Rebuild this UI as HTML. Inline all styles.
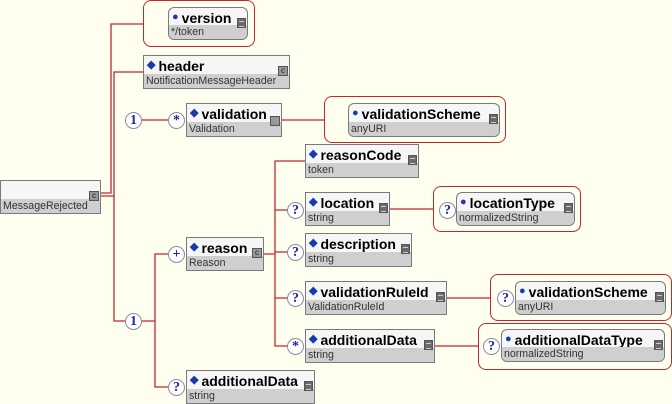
<!DOCTYPE html>
<html><head><meta charset="utf-8"><style>
body{margin:0;width:672px;height:404px;background:#fffff0;position:relative;overflow:hidden;font-family:"Liberation Sans",sans-serif}
.n{position:absolute;border:1px solid #7a7a7a;background:#f6f6f6;box-sizing:border-box}
.n .t{position:absolute;left:0;right:0;top:0;height:17px;padding-left:3px;font-weight:bold;font-size:14px;line-height:18px;color:#000;white-space:nowrap}
.n .t i{font-style:normal;color:#1a3aa8;font-size:11px;vertical-align:3px;margin-right:3px}
.n .b{position:absolute;left:0;right:0;bottom:0;height:14px;background:#cfcfcf;font-size:10.6px;line-height:14px;padding-left:2px;color:#333;white-space:nowrap}
.n.a{border-radius:6px;overflow:hidden}
.ic{position:absolute;right:1px;top:10px;width:9px;height:10px;background:#6a6a6a;border:1px solid #555;box-sizing:border-box}
.ic::after{content:"";position:absolute;left:1px;right:1px;top:2px;height:4px;border-top:1px solid #ccc;border-bottom:1px solid #ccc}
.cx{position:absolute;right:1px;top:10px;width:10px;height:10px;background:#999;border:1px solid #555;box-sizing:border-box;font-size:8px;line-height:8px;text-align:center;color:#222}
.g{position:absolute;border:1px solid #c0282e;border-radius:8px;box-sizing:border-box}
.c{position:absolute;width:17px;height:17px;border:1px solid #8a8aa8;border-radius:50%;background:#fff;box-sizing:border-box;font-size:14px;font-weight:bold;line-height:15px;text-align:center;color:#1a2a9a;font-family:"Liberation Serif",serif}
svg{position:absolute;left:0;top:0}
</style></head><body>
<svg width="672" height="404"><g stroke="#c0282e" stroke-width="1.3" fill="none">
<path d="M100 193H111V24H143"/><path d="M100 196H114V72H143"/><path d="M114 196V321H127"/>
<path d="M140 120H170"/><path d="M281 120H324"/>
<path d="M140 321H155V254H170M155 321V387H170"/>
<path d="M263 254H275V161H305M275 210H289M275 252H289M275 298H289M275 254V346H289"/>
<path d="M389 209H433"/><path d="M446 298H490"/><path d="M434 346H478"/>
</g></svg>

<div class="n" style="left:0;top:180px;width:101px;height:34px"><div class="b">MessageRejected</div><div class="cx">c</div></div>

<div class="g" style="left:143px;top:0;width:112px;height:47px"></div>
<div class="n a" style="left:168px;top:7px;width:80px;height:33px"><div class="t"><i>●</i>version</div><div class="b">*/token</div><div class="ic"></div></div>

<div class="n" style="left:143px;top:55px;width:147px;height:34px"><div class="t"><i>◆</i>header</div><div class="b">NotificationMessageHeader</div><div class="cx">c</div></div>

<div class="c" style="left:125px;top:112px">1</div>
<div class="c" style="left:168px;top:112px">*</div>
<div class="n" style="left:186px;top:103px;width:96px;height:34px"><div class="t"><i>◆</i>validation</div><div class="b">Validation</div><div class="cx" style="top:12px"></div></div>

<div class="g" style="left:324px;top:96px;width:182px;height:47px"></div>
<div class="n a" style="left:348px;top:103px;width:152px;height:34px"><div class="t"><i>●</i>validationScheme</div><div class="b">anyURI</div><div class="ic"></div></div>

<div class="n" style="left:305px;top:144px;width:114px;height:34px"><div class="t"><i>◆</i>reasonCode</div><div class="b">token</div><div class="ic"></div></div>

<div class="c" style="left:287px;top:202px">?</div>
<div class="n" style="left:305px;top:192px;width:85px;height:34px"><div class="t"><i>◆</i>location</div><div class="b">string</div><div class="ic"></div></div>

<div class="g" style="left:433px;top:186px;width:148px;height:46px"></div>
<div class="c" style="left:439px;top:202px">?</div>
<div class="n a" style="left:456px;top:192px;width:119px;height:34px"><div class="t"><i>●</i>locationType</div><div class="b">normalizedString</div><div class="ic"></div></div>

<div class="c" style="left:287px;top:244px">?</div>
<div class="n" style="left:305px;top:233px;width:107px;height:34px"><div class="t"><i>◆</i>description</div><div class="b">string</div><div class="ic"></div></div>

<div class="c" style="left:287px;top:290px">?</div>
<div class="n" style="left:305px;top:281px;width:142px;height:34px"><div class="t"><i>◆</i>validationRuleId</div><div class="b">ValidationRuleId</div><div class="ic"></div></div>

<div class="g" style="left:490px;top:274px;width:182px;height:47px"></div>
<div class="c" style="left:497px;top:290px">?</div>
<div class="n a" style="left:515px;top:281px;width:151px;height:34px"><div class="t"><i>●</i>validationScheme</div><div class="b">anyURI</div><div class="ic"></div></div>

<div class="c" style="left:287px;top:338px">*</div>
<div class="n" style="left:305px;top:329px;width:130px;height:34px"><div class="t"><i>◆</i>additionalData</div><div class="b">string</div><div class="ic"></div></div>

<div class="g" style="left:478px;top:323px;width:194px;height:47px"></div>
<div class="c" style="left:483px;top:338px">?</div>
<div class="n a" style="left:501px;top:329px;width:164px;height:33px"><div class="t"><i>●</i>additionalDataType</div><div class="b">normalizedString</div><div class="ic"></div></div>

<div class="c" style="left:168px;top:246px">+</div>
<div class="n" style="left:186px;top:237px;width:78px;height:34px"><div class="t"><i>◆</i>reason</div><div class="b">Reason</div><div class="cx">c</div></div>

<div class="c" style="left:125px;top:313px">1</div>

<div class="c" style="left:168px;top:379px">?</div>
<div class="n" style="left:186px;top:370px;width:129px;height:34px"><div class="t"><i>◆</i>additionalData</div><div class="b">string</div><div class="ic"></div></div>
</body></html>
